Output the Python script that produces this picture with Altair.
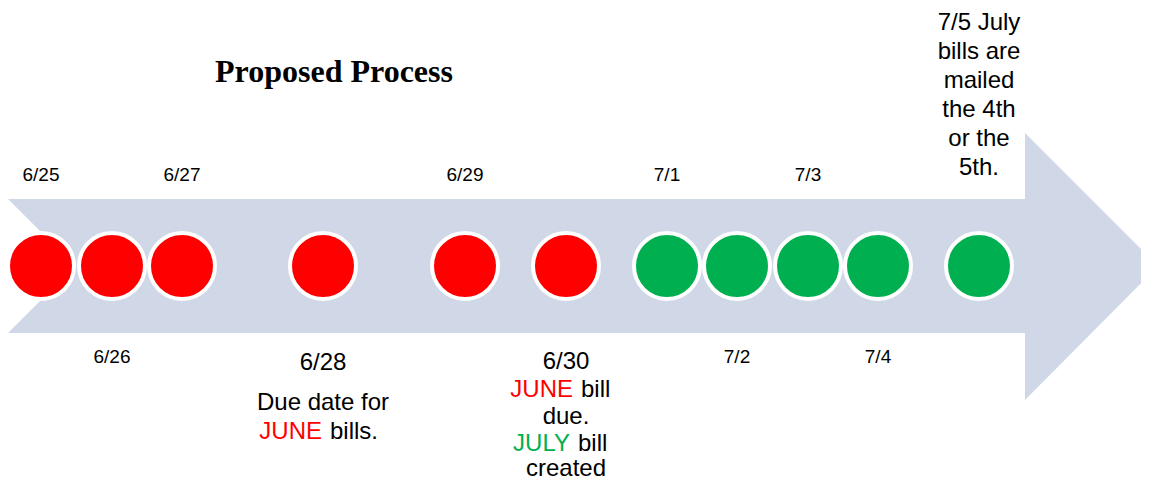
import altair as alt
import pandas as pd

# ---- data ----
days = ["6/25", "6/26", "6/27", "6/28", "6/29", "6/30", "7/1", "7/2", "7/3", "7/4", "7/5"]
day_pos = [41, 112, 182, 323, 465, 566, 667, 737, 808, 878, 979]
day_color = ["#FF0000"] * 6 + ["#00B050"] * 5

# small date labels: (text, x, y)
small_text = ["6/25", "6/27", "6/29", "7/1", "7/3", "6/26", "7/2", "7/4"]
small_x = [41, 182, 465, 667, 808, 112, 737, 878]
small_y = [175, 175, 175, 175, 175, 357, 357, 357]

# larger annotation segments: text, x, y, align, colour
big_text = ["6/28", "Due date for", "JUNE", "bills.",
            "6/30", "JUNE", "bill", "due.", "JULY", "bill", "created",
            "7/5 July", "bills are", "mailed", "the 4th", "or the", "5th."]
big_x = [323, 323, 322, 330,
         566, 573, 581, 566, 570, 578, 566,
         979, 979, 979, 979, 979, 979]
big_y = [363, 403, 432, 432,
         362, 390, 417, 417 - 0, 444, 444, 469,
         23, 52, 81, 110, 139, 168]
big_y[6] = 390  # "bill" on the JUNE line
big_y[7] = 417  # "due."
big_align = ["center", "center", "right", "left",
             "center", "right", "left", "center", "right", "left", "center",
             "center", "center", "center", "center", "center", "center"]
big_color = ["#000000", "#000000", "#FF0000", "#000000",
             "#000000", "#FF0000", "#000000", "#000000", "#00B050", "#000000", "#000000",
             "#000000", "#000000", "#000000", "#000000", "#000000", "#000000"]

title_text = ["Proposed Process"]
title_x = [334]
title_y = [72]

# arrow geometry pieces (shaft, head, tail notch)
shaft = pd.DataFrame({"x": [8], "x2": [1025], "y": [199], "y2": [333]})
head = pd.DataFrame({"x": [1025, 1158], "y": [133, 266], "y2": [400, 266]})
notch = pd.DataFrame({"x": [8, 75], "y": [199, 266], "y2": [333, 266]})

W, H = 1133, 474
xs = alt.Scale(domain=[8, 8 + W], nice=False, zero=False)
ys = alt.Scale(domain=[8 + H, 8], nice=False, zero=False)
X = lambda f="x": alt.X(f, type="quantitative", scale=xs, axis=None)
Y = lambda f="y": alt.Y(f, type="quantitative", scale=ys, axis=None)

arrow_col = "#D0D8E8"

shaft_l = alt.Chart(shaft).mark_rect(color=arrow_col).encode(
    x=X(), x2="x2", y=Y(), y2="y2")
head_l = alt.Chart(head).mark_area(color=arrow_col, opacity=1).encode(
    x=X(), y=Y(), y2="y2")
notch_l = alt.Chart(notch).mark_area(color="white", opacity=1).encode(
    x=X(), y=Y(), y2="y2")

dots = pd.DataFrame({"day": days, "x": day_pos, "y": [266] * len(days), "c": day_color})
dots_l = alt.Chart(dots).mark_circle(size=4356, opacity=1, stroke="white",
                                     strokeWidth=4, strokeOpacity=1).encode(
    x=X(), y=Y(), color=alt.Color("c:N", scale=None))

small = pd.DataFrame({"t": small_text, "x": small_x, "y": small_y})
small_l = alt.Chart(small).mark_text(font="Liberation Sans", fontSize=19,
                                     baseline="middle", align="center",
                                     color="black").encode(
    x=X(), y=Y(), text="t:N")

big = pd.DataFrame({"t": big_text, "x": big_x, "y": big_y, "a": big_align, "c": big_color})
big_layers = []
for al in ["center", "left", "right"]:
    sub = big[big["a"] == al]
    big_layers.append(
        alt.Chart(sub).mark_text(font="Liberation Sans", fontSize=24,
                                 baseline="middle", align=al).encode(
            x=X(), y=Y(), text="t:N", color=alt.Color("c:N", scale=None)))

title = pd.DataFrame({"t": title_text, "x": title_x, "y": title_y})
title_l = alt.Chart(title).mark_text(font="Liberation Serif", fontSize=32,
                                     fontWeight="bold", baseline="middle",
                                     align="center", color="black").encode(
    x=X(), y=Y(), text="t:N")

chart = alt.layer(shaft_l, head_l, notch_l, dots_l, small_l, *big_layers, title_l).properties(
    width=W, height=H, padding=0, background="white",
    autosize=alt.AutoSizeParams(type="none")
).configure_view(stroke=None, strokeWidth=0)

chart.save("out.html", embed_options={"renderer": "svg", "actions": False})
